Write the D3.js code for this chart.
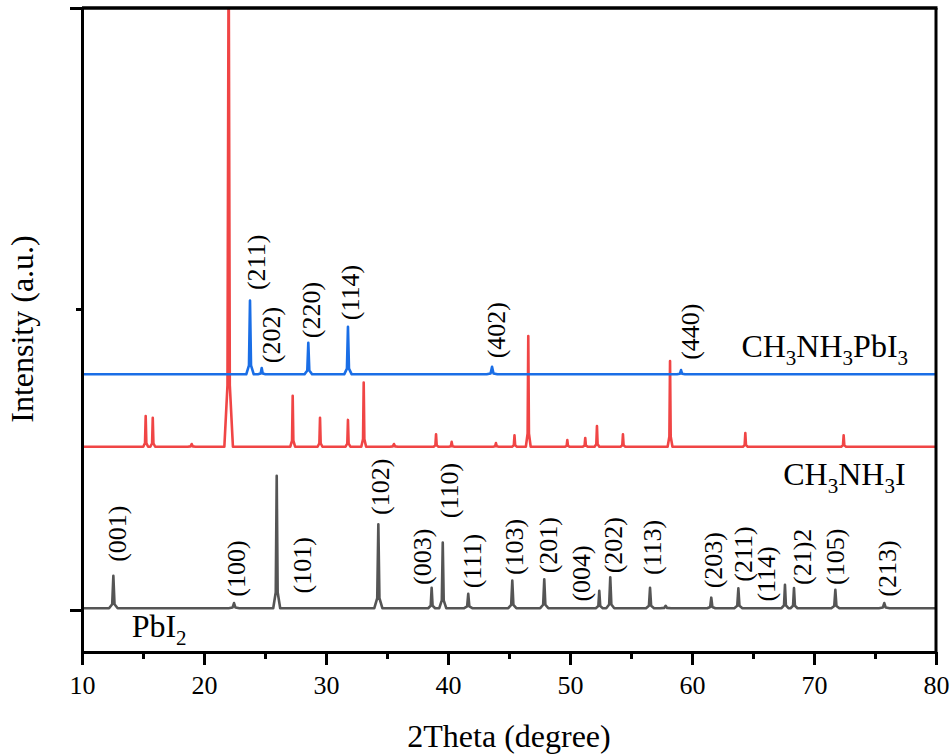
<!DOCTYPE html>
<html>
<head>
<meta charset="utf-8">
<script src="https://cdn.jsdelivr.net/npm/d3@7/dist/d3.min.js"></script>
<style>
  html, body { margin: 0; padding: 0; background: #fff; }
  svg text { font-family: "Liberation Serif", "Times New Roman", serif; fill: #000; }
</style>
</head>
<body>
<svg id="chart" width="952" height="756"></svg>
<script>
// ---------- data ----------
const xTicks = [10, 20, 30, 40, 50, 60, 70, 80];
const xMinorTicks = [15, 25, 35, 45, 55, 65, 75];
const yMajorTicks = [0, 2];
const yMinorTicks = [1];

// PbI2 (grey): baseline, peaks [2theta, height above baseline, half-width]
const pbi2Base = 0.006;
const pbi2Peaks = [
  [12.57, 0.108, 0.16], [22.46, 0.017, 0.2], [25.96, 0.440, 0.13], [34.29, 0.279, 0.15],
  [38.66, 0.068, 0.13], [39.57, 0.218, 0.13], [41.66, 0.048, 0.15], [45.27, 0.092, 0.15],
  [47.89, 0.096, 0.15], [52.40, 0.058, 0.13], [53.30, 0.103, 0.15], [56.56, 0.068, 0.15],
  [57.84, 0.008, 0.2], [61.58, 0.035, 0.15], [63.80, 0.066, 0.15], [67.62, 0.078, 0.13],
  [68.36, 0.067, 0.13], [71.75, 0.061, 0.15], [75.76, 0.017, 0.2]
];
// labels [text, 2theta of label centre, intensity at label start]
const pbi2Labels = [
  ["(001)", 12.89, 0.160], ["(100)", 22.60, 0.044], ["(101)", 28.01, 0.055], ["(102)", 34.43, 0.316],
  ["(003)", 37.84, 0.083], ["(110)", 40.11, 0.305], ["(111)", 41.94, 0.072], ["(103)", 45.41, 0.116],
  ["(201)", 48.22, 0.122], ["(004)", 50.88, 0.028], ["(202)", 53.55, 0.122], ["(113)", 56.70, 0.116],
  ["(203)", 61.70, 0.072], ["(211)", 64.16, 0.094], ["(114)", 66.07, 0.028], ["(21)2", 68.99, 0.083],
  ["(105)", 71.72, 0.083], ["(213)", 75.96, 0.044]
];

// CH3NH3I (red)
const maiBase = 0.5425;
const maiPeaks = [
  [15.22, 0.102, 0.09], [15.80, 0.096, 0.09], [18.99, 0.009, 0.15], [22.02, 1.700, 0.16],
  [27.27, 0.169, 0.09], [29.51, 0.096, 0.09], [31.80, 0.089, 0.09], [33.09, 0.213, 0.09],
  [35.57, 0.009, 0.15], [39.02, 0.041, 0.09], [40.30, 0.016, 0.11], [43.93, 0.012, 0.11],
  [45.45, 0.038, 0.09], [46.58, 0.368, 0.09], [49.78, 0.022, 0.09], [51.25, 0.029, 0.09],
  [52.21, 0.069, 0.09], [54.34, 0.041, 0.09], [58.20, 0.285, 0.09], [64.37, 0.045, 0.09],
  [72.43, 0.038, 0.09]
];

// CH3NH3PbI3 (blue)
const mapiBase = 0.783;
const mapiPeaks = [
  [23.77, 0.245, 0.14], [24.73, 0.021, 0.14], [28.55, 0.105, 0.14], [31.80, 0.158, 0.14],
  [43.61, 0.025, 0.2], [59.10, 0.014, 0.15]
];
const mapiLabels = [
  ["(211)", 24.26, 1.063], ["(202)", 25.47, 0.820], ["(220)", 28.75, 0.903],
  ["(114)", 31.97, 0.963], ["(402)", 43.93, 0.836], ["(440)", 59.84, 0.831]
];

// series names: [text part, is subscript], anchor [2theta, intensity]
const seriesNames = [
  { parts: [["CH", 0], ["3", 1], ["NH", 0], ["3", 1], ["PbI", 0], ["3", 1]], at: [64.05, 0.8415] },
  { parts: [["CH", 0], ["3", 1], ["NH", 0], ["3", 1], ["I", 0]], at: [67.48, 0.415] },
  { parts: [["PbI", 0], ["2", 1]], at: [14.07, -0.0887] }
];

const xTitle = "2Theta (degree)";
const yTitle = "Intensity (a.u.)";

// ---------- drawing ----------
const FONT = "'Liberation Serif', 'Times New Roman', serif";
const svg = d3.select("#chart");
const pL = 82, pR = 936, pT = 8, pB = 652;

const x = d3.scaleLinear().domain([10, 80]).range([pL, pR]);
const y = d3.scaleLinear().domain([-0.1395, 2]).range([pB, pT]);

// each peak is drawn as a sharp spike with a slightly widened foot
function seriesPoints(base, peaks) {
  const pts = [[10, base]];
  peaks.slice().sort((a, b) => a[0] - b[0]).forEach(([p, h, w]) => {
    pts.push([p - 2.2 * w, base], [p - 0.6 * w, base + 0.12 * h], [p, base + h],
             [p + 0.6 * w, base + 0.12 * h], [p + 2.2 * w, base]);
  });
  pts.push([80, base]);
  return pts;
}

svg.append("defs").append("clipPath").attr("id", "plotclip")
  .append("rect").attr("x", pL).attr("y", pT).attr("width", pR - pL).attr("height", pB - pT);

const line = d3.line().x(d => x(d[0])).y(d => y(d[1]));
const gSeries = svg.append("g").attr("clip-path", "url(#plotclip)");
const series = [
  { pts: seriesPoints(pbi2Base, pbi2Peaks), color: "#555555" },
  { pts: seriesPoints(maiBase, maiPeaks), color: "#f04545" },
  { pts: seriesPoints(mapiBase, mapiPeaks), color: "#1a6ee6" }
];
series.forEach(s => {
  gSeries.append("path").datum(s.pts)
    .attr("d", line)
    .attr("fill", "none")
    .attr("stroke", s.color)
    .attr("stroke-width", 2.6)
    .attr("stroke-linejoin", "round");
});

// peak labels (rotated)
function drawLabels(labels) {
  svg.append("g").selectAll("text").data(labels).join("text")
    .attr("transform", d => `translate(${x(d[1])},${y(d[2])}) rotate(-90)`)
    .attr("dy", "0.35em")
    .attr("text-anchor", "start")
    .attr("font-family", FONT)
    .attr("font-size", 26)
    .text(d => d[0]);
}
drawLabels(pbi2Labels);
drawLabels(mapiLabels);

// series names with subscripts
seriesNames.forEach(n => {
  const t = svg.append("text")
    .attr("x", x(n.at[0])).attr("y", y(n.at[1]))
    .attr("font-family", FONT)
    .attr("font-size", 32);
  n.parts.forEach(([s, sub], i) => {
    const prevSub = i > 0 && n.parts[i - 1][1];
    const ts = t.append("tspan").text(s);
    if (sub) ts.attr("font-size", 21);
    if (sub && !prevSub) ts.attr("dy", 8);
    else if (!sub && prevSub) ts.attr("dy", -8);
  });
});

// axes
const axisW = 3;
const gx = svg.append("g").attr("transform", `translate(0,${pB})`)
  .call(d3.axisBottom(x).tickValues(xTicks).tickSize(13).tickPadding(11).tickSizeOuter(0).tickFormat(d3.format("d")));
gx.select(".domain").attr("stroke", "#000").attr("stroke-width", axisW);
gx.selectAll(".tick line").attr("stroke", "#000").attr("stroke-width", axisW);
gx.selectAll(".tick text").attr("font-size", 26).attr("font-family", FONT).attr("fill", "#000");

const gxm = svg.append("g").attr("transform", `translate(0,${pB})`)
  .call(d3.axisBottom(x).tickValues(xMinorTicks).tickSize(7).tickFormat(""));
gxm.select(".domain").remove();
gxm.selectAll(".tick line").attr("stroke", "#000").attr("stroke-width", axisW);

const gy = svg.append("g").attr("transform", `translate(${pL},0)`)
  .call(d3.axisLeft(y).tickValues(yMajorTicks).tickSize(12).tickSizeOuter(0).tickFormat(""));
gy.select(".domain").attr("stroke", "#000").attr("stroke-width", axisW);
gy.selectAll(".tick line").attr("stroke", "#000").attr("stroke-width", axisW);

const gym = svg.append("g").attr("transform", `translate(${pL},0)`)
  .call(d3.axisLeft(y).tickValues(yMinorTicks).tickSize(6).tickFormat(""));
gym.select(".domain").remove();
gym.selectAll(".tick line").attr("stroke", "#000").attr("stroke-width", axisW);

// top and right frame
svg.append("line").attr("x1", pL).attr("x2", pR + axisW / 2).attr("y1", pT).attr("y2", pT)
  .attr("stroke", "#000").attr("stroke-width", axisW + 0.5);
svg.append("line").attr("x1", pR).attr("x2", pR).attr("y1", pT).attr("y2", pB + axisW / 2)
  .attr("stroke", "#000").attr("stroke-width", axisW);

// titles
svg.append("text").attr("x", (pL + pR) / 2).attr("y", 746.5)
  .attr("text-anchor", "middle").attr("font-family", FONT).attr("font-size", 32).text(xTitle);
svg.append("text").attr("transform", `translate(33,329) rotate(-90)`)
  .attr("text-anchor", "middle").attr("font-family", FONT).attr("font-size", 32).text(yTitle);
</script>
</body>
</html>
